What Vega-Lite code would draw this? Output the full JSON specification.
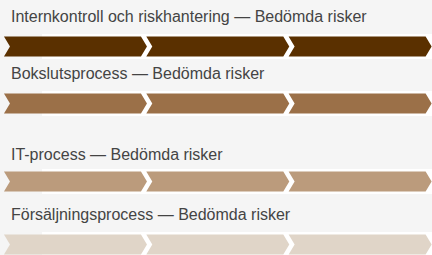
{
  "$schema": "https://vega.github.io/schema/vega-lite/v6.json",
  "background": "#f5f5f5",
  "padding": {"left": 3, "right": 2, "top": 9, "bottom": 0},
  "config": {
    "view": {"stroke": null, "fill": "#ffffff"},
    "title": {"anchor": "start", "fontSize": 16, "fontWeight": "normal", "font": "Liberation Sans", "color": "#444444", "offset": 9, "dx": 7}
  },
  "datasets": {
    "steps": [
      {"process": "Internkontroll och riskhantering", "step": 1},
      {"process": "Internkontroll och riskhantering", "step": 2},
      {"process": "Internkontroll och riskhantering", "step": 3},
      {"process": "Bokslutsprocess", "step": 1},
      {"process": "Bokslutsprocess", "step": 2},
      {"process": "Bokslutsprocess", "step": 3},
      {"process": "IT-process", "step": 1},
      {"process": "IT-process", "step": 2},
      {"process": "IT-process", "step": 3},
      {"process": "Försäljningsprocess", "step": 1},
      {"process": "Försäljningsprocess", "step": 2},
      {"process": "Försäljningsprocess", "step": 3}
    ]
  },
  "spacing": 31,
  "vconcat": [
    {
      "spacing": 7,
      "vconcat": [
        {
          "title": "Internkontroll och riskhantering — Bedömda risker",
          "width": 427, "height": 25,
          "view": {"fill": "#ffffff", "stroke": null},
          "data": {"name": "steps"},
          "transform": [{"filter": "datum.process === 'Internkontroll och riskhantering'"}],
          "mark": {"type": "point", "shape": "M -6.85 -1 L 6.85 -1 L 7.45 0 L 6.85 1 L -6.85 1 L -6.25 0 Z", "size": 400, "filled": true, "opacity": 1, "strokeWidth": 0},
          "encoding": {
            "x": {"field": "step", "type": "ordinal", "scale": {"paddingInner": 0, "paddingOuter": 0.025, "align": 0.214}, "axis": null},
            "color": {"field": "process", "type": "nominal", "legend": null, "scale": {"domain": ["Internkontroll och riskhantering", "Bokslutsprocess", "IT-process", "Försäljningsprocess"], "range": ["#5a3000", "#9b7048", "#bb9b7c", "#e0d5c8"]}}
          }
        },
        {
          "title": "Bokslutsprocess — Bedömda risker",
          "width": 427, "height": 25,
          "view": {"fill": "#ffffff", "stroke": null},
          "data": {"name": "steps"},
          "transform": [{"filter": "datum.process === 'Bokslutsprocess'"}],
          "mark": {"type": "point", "shape": "M -6.85 -1 L 6.85 -1 L 7.45 0 L 6.85 1 L -6.85 1 L -6.25 0 Z", "size": 400, "filled": true, "opacity": 1, "strokeWidth": 0},
          "encoding": {
            "x": {"field": "step", "type": "ordinal", "scale": {"paddingInner": 0, "paddingOuter": 0.025, "align": 0.214}, "axis": null},
            "color": {"field": "process", "type": "nominal", "legend": null, "scale": {"domain": ["Internkontroll och riskhantering", "Bokslutsprocess", "IT-process", "Försäljningsprocess"], "range": ["#5a3000", "#9b7048", "#bb9b7c", "#e0d5c8"]}}
          }
        }
      ]
    },
    {
      "spacing": 13,
      "vconcat": [
        {
          "title": {"text": "IT-process — Bedömda risker", "offset": 6},
          "width": 427, "height": 25,
          "view": {"fill": "#ffffff", "stroke": null},
          "data": {"name": "steps"},
          "transform": [{"filter": "datum.process === 'IT-process'"}],
          "mark": {"type": "point", "shape": "M -6.85 -1 L 6.85 -1 L 7.45 0 L 6.85 1 L -6.85 1 L -6.25 0 Z", "size": 400, "filled": true, "opacity": 1, "strokeWidth": 0},
          "encoding": {
            "x": {"field": "step", "type": "ordinal", "scale": {"paddingInner": 0, "paddingOuter": 0.025, "align": 0.214}, "axis": null},
            "color": {"field": "process", "type": "nominal", "legend": null, "scale": {"domain": ["Internkontroll och riskhantering", "Bokslutsprocess", "IT-process", "Försäljningsprocess"], "range": ["#5a3000", "#9b7048", "#bb9b7c", "#e0d5c8"]}}
          }
        },
        {
          "title": "Försäljningsprocess — Bedömda risker",
          "width": 427, "height": 25,
          "view": {"fill": "#ffffff", "stroke": null},
          "data": {"name": "steps"},
          "transform": [{"filter": "datum.process === 'Försäljningsprocess'"}],
          "mark": {"type": "point", "shape": "M -6.85 -1 L 6.85 -1 L 7.45 0 L 6.85 1 L -6.85 1 L -6.25 0 Z", "size": 400, "filled": true, "opacity": 1, "strokeWidth": 0},
          "encoding": {
            "x": {"field": "step", "type": "ordinal", "scale": {"paddingInner": 0, "paddingOuter": 0.025, "align": 0.214}, "axis": null},
            "color": {"field": "process", "type": "nominal", "legend": null, "scale": {"domain": ["Internkontroll och riskhantering", "Bokslutsprocess", "IT-process", "Försäljningsprocess"], "range": ["#5a3000", "#9b7048", "#bb9b7c", "#e0d5c8"]}}
          }
        }
      ]
    }
  ]
}
